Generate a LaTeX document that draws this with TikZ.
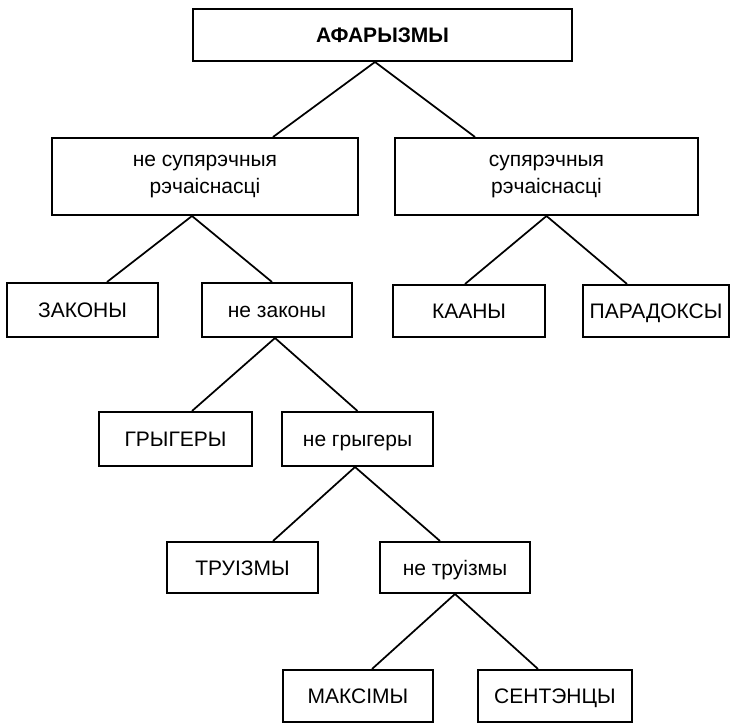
\documentclass[tikz,border=0pt]{standalone}
\usepackage{fontspec}
\setmainfont{Liberation Sans}
\usetikzlibrary{calc}
\begin{document}
\begin{tikzpicture}[x=0.75pt,y=-0.75pt,
  box/.style 2 args={draw=black, line width=1.5pt, inner sep=0pt,
    minimum width=#1*0.75pt, minimum height=#2*0.75pt,
    text height=11.3pt, text depth=0pt,
    font=\fontsize{15.75}{20.25}\selectfont},
  box2/.style 2 args={draw=black, line width=1.5pt, inner sep=0pt, align=center,
    minimum width=#1*0.75pt, minimum height=#2*0.75pt,
    font=\fontsize{15.75}{20.25}\selectfont},
  link/.style={draw=black, line width=1.3pt}]
\useasboundingbox (0,0) rectangle (730,723);
\node[box={379}{52}, font=\fontsize{15.75}{20.25}\selectfont\bfseries] (top) at (382.5,35) {АФАРЫЗМЫ};
\node[box2={306}{77}] (nsr) at (205,176.5) {не супярэчныя\\рэчаіснасці};
\node[box2={303}{77}] (sr) at (546.5,176.5) {супярэчныя\\рэчаіснасці};
\node[box={151}{54}] (zak) at (82.5,310) {ЗАКОНЫ};
\node[box={150}{54}] (nezak) at (277,310) {не законы};
\node[box={152}{52}] (kaany) at (469,311) {КААНЫ};
\node[box={146}{52}] (parad) at (656,311) {ПАРАДОКСЫ};
\node[box={153}{54}] (gryg) at (175.5,439) {ГРЫГЕРЫ};
\node[box={151}{54}] (negryg) at (357.5,439) {не грыгеры};
\node[box={151}{51}] (truiz) at (242.5,567.5) {ТРУІЗМЫ};
\node[box={150}{51}] (netruiz) at (455,567.5) {не труізмы};
\node[box={150}{52}] (maks) at (358,696) {МАКСІМЫ};
\node[box={154}{52}] (sent) at (555,696) {СЕНТЭНЦЫ};

\coordinate (a0) at ($(top.south)+(-7.5,0)$);
\draw[link] ($(nsr.north)+(68,0)$) -- (a0) -- ($(sr.north)+(-71.5,0)$);
\coordinate (a1) at ($(nsr.south)+(-13,0)$);
\draw[link] ($(zak.north)+(24.5,0)$) -- (a1) -- ($(nezak.north)+(-5,0)$);
\coordinate (a2) at (sr.south);
\draw[link] ($(kaany.north)+(-4,0)$) -- (a2) -- ($(parad.north)+(-29,0)$);
\coordinate (a3) at ($(nezak.south)+(-2,0)$);
\draw[link] ($(gryg.north)+(16.5,0)$) -- (a3) -- (negryg.north);
\coordinate (a4) at ($(negryg.south)+(-2.5,0)$);
\draw[link] ($(truiz.north)+(30.5,0)$) -- (a4) -- ($(netruiz.north)+(-15,0)$);
\coordinate (a5) at (netruiz.south);
\draw[link] ($(maks.north)+(14,0)$) -- (a5) -- ($(sent.north)+(-17,0)$);
\end{tikzpicture}
\end{document}
